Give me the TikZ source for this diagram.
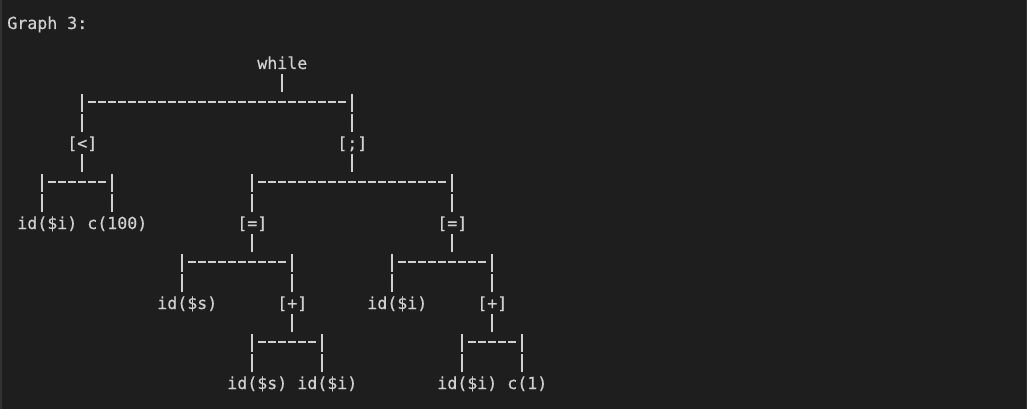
\documentclass[tikz,border=0pt]{standalone}
\usepackage{fontspec}
\newfontfamily\termfont[FakeBold=0.5]{DejaVu Sans Mono}
\definecolor{bg}{HTML}{1E1E1E}
\definecolor{fg}{HTML}{D0D0D0}
\definecolor{edge}{HTML}{333333}
\tikzset{
  lbl/.style={inner sep=0pt, outer sep=0pt, anchor=base west, text=fg,
    font=\termfont\fontsize{16.6}{20}\selectfont},
  stem/.style={draw=fg, line width=1.7pt},
  leg/.style={draw=fg, line width=1.7pt, dash pattern=on 18pt off 2pt},
  hbar/.style={draw=fg, line width=1.5pt, dash pattern=on 8pt off 2pt},
}
% \tbranch{parent}{left child}{left xshift}{right child}{right xshift}
\newcommand\tbranch[5]{%
  \draw[stem] ([yshift=-5pt]#1.base) -- ([yshift=-23pt]#1.base);
  \coordinate (#2-j) at ([xshift=#3, yshift=47pt]#2.base);
  \coordinate (#4-j) at ([xshift=#5, yshift=47pt]#4.base);
  \draw[leg] ([xshift=#3, yshift=55pt]#2.base) -- ([xshift=#3, yshift=17pt]#2.base);
  \draw[leg] ([xshift=#5, yshift=55pt]#4.base) -- ([xshift=#5, yshift=17pt]#4.base);
  \draw[hbar] ([xshift=6pt]#2-j) -- ([xshift=-6pt]#4-j);
}
\newcommand\colx[1]{7.3+10*#1}
\newcommand\rowy[1]{-29-20*#1}
\begin{document}
\begin{tikzpicture}[x=1pt,y=1pt]
\fill[bg] (0,0) rectangle (1027,-409);
\useasboundingbox (0,0) rectangle (1027,-409);
\draw[edge, line width=1.5pt] (0.75,0) -- (0.75,-409);
\draw[edge, line width=1pt] (1026.5,0) -- (1026.5,-409);

\node[lbl] (title) at ({\colx{0}},{\rowy{0}}) {Graph 3:};
\node[lbl] (while) at ({\colx{25}},{\rowy{2}}) {while};
\node[lbl] (lt)    at ({\colx{6}},{\rowy{6}}) {[<]};
\node[lbl] (semi)  at ({\colx{33}},{\rowy{6}}) {[;]};
\node[lbl] (i1)    at ({\colx{1}},{\rowy{10}}) {id(\$i)};
\node[lbl] (c100)  at ({\colx{8}},{\rowy{10}}) {c(100)};
\node[lbl] (eq1)   at ({\colx{23}},{\rowy{10}}) {[=]};
\node[lbl] (eq2)   at ({\colx{43}},{\rowy{10}}) {[=]};
\node[lbl] (s1)    at ({\colx{15}},{\rowy{14}}) {id(\$s)};
\node[lbl] (plus1) at ({\colx{27}},{\rowy{14}}) {[+]};
\node[lbl] (i2)    at ({\colx{36}},{\rowy{14}}) {id(\$i)};
\node[lbl] (plus2) at ({\colx{47}},{\rowy{14}}) {[+]};
\node[lbl] (s2)    at ({\colx{22}},{\rowy{18}}) {id(\$s)};
\node[lbl] (i3)    at ({\colx{29}},{\rowy{18}}) {id(\$i)};
\node[lbl] (i4)    at ({\colx{43}},{\rowy{18}}) {id(\$i)};
\node[lbl] (c1)    at ({\colx{50}},{\rowy{18}}) {c(1)};

\tbranch{while}{lt}{0pt}{semi}{0pt}
\tbranch{lt}{i1}{-5pt}{c100}{-5pt}
\tbranch{semi}{eq1}{0pt}{eq2}{0pt}
\tbranch{eq1}{s1}{-5pt}{plus1}{0pt}
\tbranch{eq2}{i2}{-5pt}{plus2}{0pt}
\tbranch{plus1}{s2}{-5pt}{i3}{-5pt}
\tbranch{plus2}{i4}{-5pt}{c1}{-5pt}
\end{tikzpicture}
\end{document}
